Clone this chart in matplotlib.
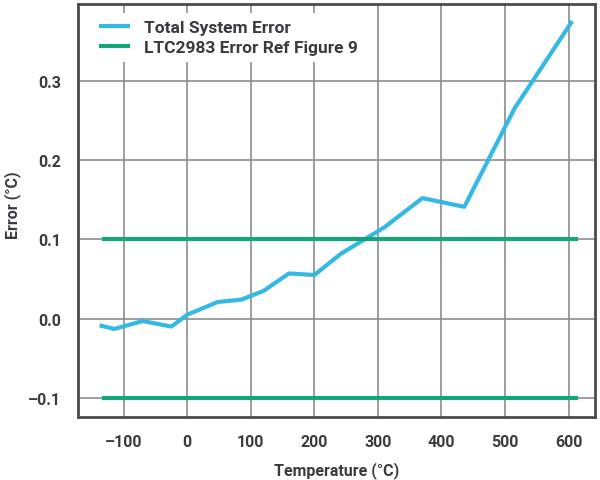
import matplotlib
matplotlib.use("Agg")
import matplotlib.pyplot as plt

# temperature sweep (degC) and total system error (degC)
temps = [-135, -115, -70, -25, 0, 48, 85, 120, 160, 200, 242, 310, 370, 436, 515, 604]
sysErr = [-0.009, -0.013, -0.003, -0.010, 0.005, 0.021, 0.024, 0.035, 0.057, 0.055,
          0.082, 0.115, 0.152, 0.141, 0.265, 0.373]

# LTC2983 error band (+/- limits)
refSpan = [-131, 611]
refHigh = 0.1
refLow = -0.1

xTicks = [-100, 0, 100, 200, 300, 400, 500, 600]
yTicks = [-0.1, 0.0, 0.1, 0.2, 0.3]
yTickLabels = ["\u20130.1", "0.0", "0.1", "0.2", "0.3"]
xTickLabels = ["\u2013100", "0", "100", "200", "300", "400", "500", "600"]

textCol = "#3a3a40"
blue = "#35b8e4"
green = "#16a57a"

plt.rcParams['font.family'] = ['Roboto', 'DejaVu Sans']

fig = plt.figure(figsize=(6, 4.81), dpi=100)
ax = fig.add_axes([0.13, 0.131, 0.862, 0.859])

ax.plot(temps, sysErr, color=blue, lw=3, label="Total System Error", zorder=3)
ax.plot(refSpan, [refHigh, refHigh], color=green, lw=3, label="LTC2983 Error Ref Figure 9", zorder=3)
ax.plot(refSpan, [refLow, refLow], color=green, lw=3, zorder=3)

ax.set_xlim(-172, 642)
ax.set_ylim(-0.124, 0.397)
ax.set_xticks(xTicks)
ax.set_xticklabels(xTickLabels)
ax.set_yticks(yTicks)
ax.set_yticklabels(yTickLabels)
ax.grid(True, color="#8c8c92", lw=1.2)
ax.set_axisbelow(True)
ax.tick_params(length=0, pad=12, labelsize=11.5, labelcolor=textCol)
for lab in ax.get_xticklabels() + ax.get_yticklabels():
    lab.set_fontweight("bold")
for sp in ax.spines.values():
    sp.set_color("#4a4a50")
    sp.set_linewidth(2)

ax.set_xlabel("Temperature (\u00b0C)", fontsize=11.5, fontweight="bold", color=textCol, labelpad=9)
ax.set_ylabel("Error (\u00b0C)", fontsize=11.5, fontweight="bold", color=textCol)
ax.yaxis.set_label_coords(-0.11, 0.516)

leg = ax.legend(loc="upper left", bbox_to_anchor=(0.01, 1.003), frameon=True, fancybox=False,
                edgecolor="none", facecolor="white", framealpha=1.0,
                handlelength=1.6, handletextpad=0.9, labelspacing=0.3,
                prop={"weight": "bold", "size": 12.5}, borderaxespad=0.6)
for t in leg.get_texts():
    t.set_color(textCol)

fig.savefig("out.png", dpi=100)
